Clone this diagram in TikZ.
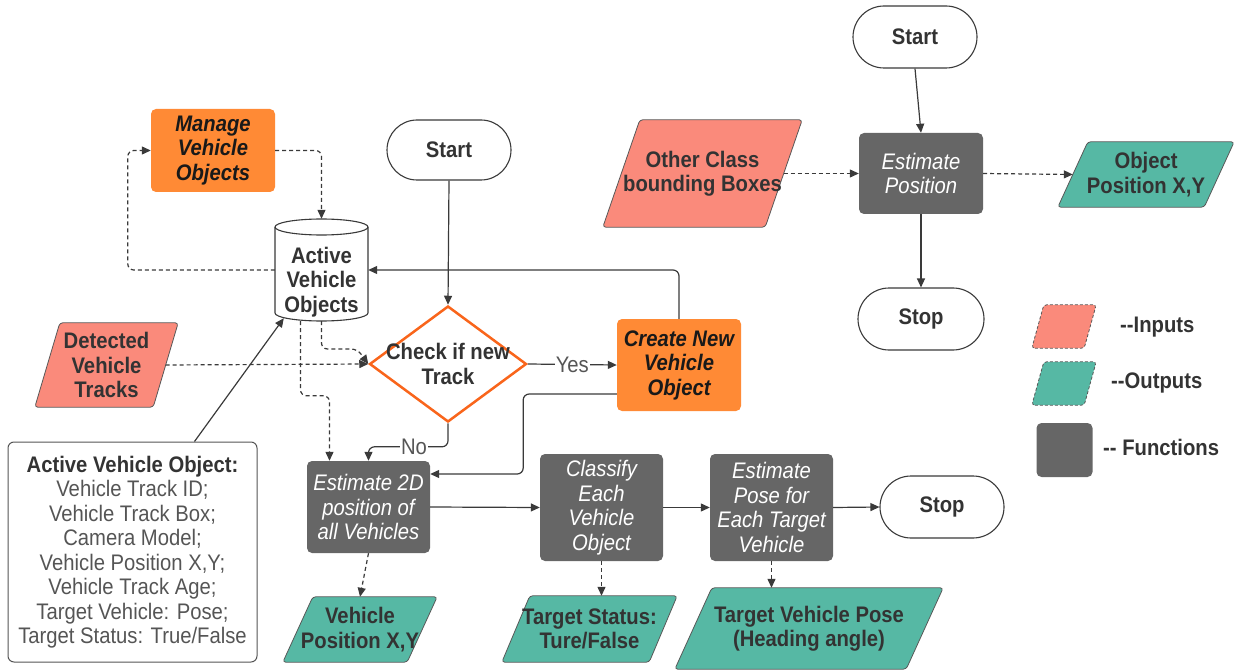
\documentclass[tikz,border=0pt]{standalone}
\usepackage{fontspec}
\setmainfont{Liberation Sans}[FakeStretch=0.9]
\usetikzlibrary{arrows.meta,shapes.geometric,shapes.misc,calc}

\definecolor{lineC}{HTML}{3A3A3A}
\definecolor{txtC}{HTML}{333333}
\definecolor{noteC}{HTML}{555555}
\definecolor{funcC}{HTML}{666666}
\definecolor{orangeC}{HTML}{FF8A35}
\definecolor{diaC}{HTML}{F9651B}
\definecolor{inC}{HTML}{FA8A7B}
\definecolor{outC}{HTML}{56B8A4}

\pgfdeclarelayer{bg}
\pgfsetlayers{bg,main}

\newcommand\dgfont{\fontsize{22.5}{24.5}\selectfont}

\tikzset{
  conn/.style={draw=lineC, line width=1.2pt, -{Triangle[length=9pt,width=8pt]}},
  dconn/.style={conn, dash pattern=on 4pt off 3pt},
  func/.style={rectangle, rounded corners=5pt, fill=funcC, text=white,
    font=\dgfont\itshape, align=center, inner sep=0pt},
  orangebox/.style={rectangle, rounded corners=5pt, fill=orangeC, text=black!90,
    font=\dgfont\bfseries\itshape, align=center, inner sep=0pt},
  term/.style={rounded rectangle, draw=lineC, line width=1.1pt, fill=white,
    text=txtC, font=\dgfont\bfseries, inner sep=0pt},
  iotext/.style={rectangle, inner sep=0pt, text=txtC, font=\dgfont\bfseries, align=center},
  iofill/.style={fill=#1, draw=lineC!85, line width=0.8pt, rounded corners=3pt},
  lbl/.style={fill=white, text=noteC, inner sep=1pt, font=\dgfont},
  notebox/.style={rectangle, draw=noteC, rounded corners=6pt, line width=1pt,
    inner sep=0pt, align=center, text=noteC, font=\dgfont},
}

% parallelogram data box: name, x, y, body width, height, slant, path style, text
\newcommand\mkio[8]{%
  \node[iotext, minimum width=#4, minimum height=#5] (#1) at (#2,#3) {#8};
  \begin{pgfonlayer}{bg}
    \path[#7] ($(#1.south west)+(-#6/2,0)$) -- ($(#1.south east)+(-#6/2,0)$)
      -- ($(#1.north east)+(#6/2,0)$) -- ($(#1.north west)+(#6/2,0)$) -- cycle;
  \end{pgfonlayer}%
}

\begin{document}
\begin{tikzpicture}[x=1pt,y=-1pt]
\useasboundingbox (0,0) rectangle (1234,671);

% ---------- vehicle pipeline ----------
\node[orangebox, minimum width=124, minimum height=83] (mgr) at (213,150.5) {Manage\\Vehicle\\Objects};

% data store (cylinder)
\node[rectangle, minimum width=93, minimum height=102, inner sep=0pt] (avo) at (321.5,270) {};
\draw[draw=lineC, line width=1.1pt, fill=white] (275,227) -- (275,313)
  arc[start angle=180, end angle=360, x radius=46.5pt, y radius=8pt] -- (368,227)
  arc[start angle=0, end angle=180, x radius=46.5pt, y radius=8pt] -- cycle;
\draw[draw=lineC, line width=1.1pt] (275,227)
  arc[start angle=180, end angle=360, x radius=46.5pt, y radius=8pt];
\node[iotext] (avot) at (321.5,282) {Active\\Vehicle\\Objects};

\node[term, minimum width=124, minimum height=60] (st1) at (449,150) {Start};

\node[diamond, draw=diaC, line width=2.5pt, fill=white, minimum width=157,
  minimum height=116, inner sep=0pt] (chk) at (448,364) {};
\node[iotext] (chkt) at (448,364) {Check if new\\Track};

\node[orangebox, minimum width=124, minimum height=92] (cnv) at (679,365) {Create New\\Vehicle\\Object};

\mkio{dvt}{106.5}{365}{118}{84}{25}{iofill=inC}{Detected\\Vehicle\\Tracks}

\node[func, minimum width=123, minimum height=92] (e2d) at (368.5,507) {Estimate 2D\\position of\\all Vehicles};
\node[func, minimum width=123, minimum height=107] (cls) at (601.5,507.5) {Classify\\Each\\Vehicle\\Object};
\node[func, minimum width=123, minimum height=107] (pose) at (771.5,507.5) {Estimate\\Pose for\\Each Target\\Vehicle};
\node[term, minimum width=124, minimum height=62] (sp1) at (942,507) {Stop};

\mkio{vpos}{360}{629.5}{124}{65}{30}{iofill=outC}{Vehicle\\Position X,Y}
\mkio{tst}{589.5}{629}{147}{66}{28}{iofill=outC}{Target Status:\\Ture/False}
\mkio{tvp}{809}{628.5}{231}{81}{37}{iofill=outC}{Target Vehicle Pose\\(Heading angle)}

\node[notebox, minimum width=249, minimum height=220] (note) at (132.5,552)
  {\textbf{\color{txtC}Active Vehicle Object:}\\Vehicle Track ID;\\Vehicle Track Box;\\Camera Model;\\Vehicle Position X,Y;\\Vehicle Track Age;\\Target Vehicle: Pose;\\Target Status: True/False};

% connectors
\draw[dconn, rounded corners=6pt] (avo.west) -| ($(mgr.west)+(-23,0)$) -- (mgr.west);
\draw[dconn, rounded corners=6pt] (mgr.east) -| (avo.north);
\draw[dconn] (dvt.east) -- (chk.west);
\draw[dconn, rounded corners=6pt] (avo.south) |- ($(chk.west)+(-11,-15)$) -- (chk.west);
\draw[dconn, rounded corners=6pt] ($(avo.south)+(-21,0)$) |- ($(e2d.north)+(-39,-65)$) -- ($(e2d.north)+(-39,0)$);
\draw[conn] (st1.south) -- (chk.north);
\draw[conn] (chk.east) -- node[lbl] (yesl) {Yes} (cnv.west);
\draw[conn, rounded corners=6pt] (cnv.north) |- (avo.east);
\draw[conn, rounded corners=6pt] ($(cnv.west)+(0,29)$) -| ($(e2d.east)+(93,-33)$) -- ($(e2d.east)+(0,-33)$);
\draw[conn, rounded corners=6pt] (chk.south) |- ($(e2d.north)+(0,-14)$) -- (e2d.north);
\node[lbl] (nol) at (414,447) {No};
\draw[conn] (e2d.east) -- (cls.west);
\draw[conn] (cls.east) -- (pose.west);
\draw[conn] (pose.east) -- (sp1.west);
\draw[dconn] (e2d.south) -- (vpos.north);
\draw[dconn] (cls.south) -- (cls.south |- tst.north);
\draw[dconn] (pose.south) -- (pose.south |- tvp.north);
\draw[conn] ($(note.north)+(62,0)$) -- ($(avo.south west)+(9,-3)$);

% ---------- other objects ----------
\node[term, minimum width=124, minimum height=62] (st2) at (915,37) {Start};
\node[func, minimum width=124, minimum height=81] (estp) at (921,173.5) {Estimate\\Position};
\node[term, minimum width=126, minimum height=62] (sp2) at (921,319) {Stop};
\mkio{ocb}{702.5}{173.5}{162}{107}{37}{iofill=inC}{Other Class\\bounding Boxes}
\mkio{opos}{1146}{174.5}{146}{65}{30}{iofill=outC}{Object\\Position X,Y}

\draw[conn] (st2.south) -- (estp.north);
\draw[conn] (estp.south) -- (sp2.north);
\draw[dconn] (ocb.east) -- (estp.west);
\draw[dconn] (estp.east) -- (opos.west);

% ---------- legend ----------
\mkio{lgi}{1064}{326.5}{52}{43}{12}{iofill=inC, dash pattern=on 3pt off 2pt}{}
\mkio{lgo}{1064}{383.5}{52}{43}{12}{iofill=outC, dash pattern=on 3pt off 2pt}{}
\node[func, minimum width=56, minimum height=54] (lgf) at (1064.5,450) {};
\node[iotext, anchor=west] (lgit) at (1120,327) {-{}-Inputs};
\node[iotext, anchor=west] (lgot) at (1111,383) {-{}-Outputs};
\node[iotext, anchor=west] (lgft) at (1103,447) {-{}- Functions};
\end{tikzpicture}
\end{document}
